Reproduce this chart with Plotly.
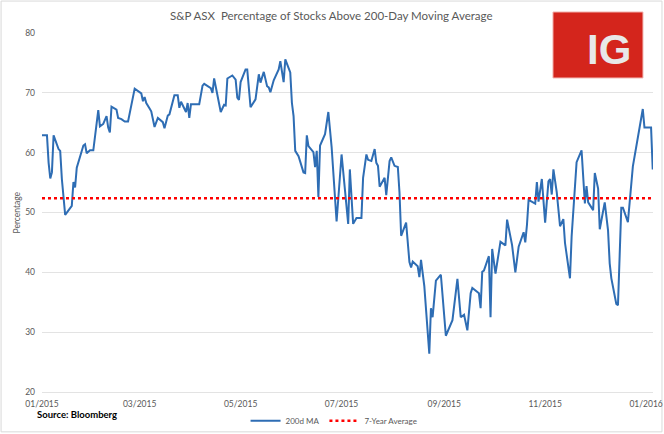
import plotly.graph_objects as go

# ---- data ----
dates = [
    "2015-01-01", "2015-01-04", "2015-01-05", "2015-01-06", "2015-01-07", "2015-01-08",
    "2015-01-11", "2015-01-12", "2015-01-13", "2015-01-15", "2015-01-19", "2015-01-20",
    "2015-01-21", "2015-01-22", "2015-01-26", "2015-01-27", "2015-01-28", "2015-01-30",
    "2015-02-01", "2015-02-04", "2015-02-05", "2015-02-07", "2015-02-09", "2015-02-10",
    "2015-02-11", "2015-02-12", "2015-02-15", "2015-02-16", "2015-02-18", "2015-02-20",
    "2015-02-22", "2015-02-26", "2015-03-02", "2015-03-03", "2015-03-04", "2015-03-05",
    "2015-03-07", "2015-03-08", "2015-03-10", "2015-03-12", "2015-03-15", "2015-03-16",
    "2015-03-18", "2015-03-19", "2015-03-22", "2015-03-24", "2015-03-25", "2015-03-26",
    "2015-03-29", "2015-03-30", "2015-03-31", "2015-04-01", "2015-04-06", "2015-04-08",
    "2015-04-09", "2015-04-13", "2015-04-14", "2015-04-15", "2015-04-19", "2015-04-21",
    "2015-04-22", "2015-04-23", "2015-04-26", "2015-04-28", "2015-04-29", "2015-04-30",
    "2015-05-01", "2015-05-04", "2015-05-05", "2015-05-07", "2015-05-10", "2015-05-12",
    "2015-05-13", "2015-05-15", "2015-05-17", "2015-05-18", "2015-05-19", "2015-05-21",
    "2015-05-24", "2015-05-25", "2015-05-27", "2015-05-28", "2015-05-31", "2015-06-01",
    "2015-06-02", "2015-06-03", "2015-06-05", "2015-06-08", "2015-06-09", "2015-06-10",
    "2015-06-11", "2015-06-14", "2015-06-15", "2015-06-16", "2015-06-17", "2015-06-18",
    "2015-06-21", "2015-06-23", "2015-06-25", "2015-06-28", "2015-07-01", "2015-07-05",
    "2015-07-06", "2015-07-08", "2015-07-10", "2015-07-13", "2015-07-14", "2015-07-16",
    "2015-07-17", "2015-07-19", "2015-07-21", "2015-07-22", "2015-07-23", "2015-07-24",
    "2015-07-27", "2015-07-28", "2015-07-30", "2015-07-31", "2015-08-02", "2015-08-04",
    "2015-08-05", "2015-08-06", "2015-08-09", "2015-08-11", "2015-08-12", "2015-08-13",
    "2015-08-16", "2015-08-17", "2015-08-18", "2015-08-20", "2015-08-23", "2015-08-24",
    "2015-08-25", "2015-08-27", "2015-08-30", "2015-09-02", "2015-09-06", "2015-09-09",
    "2015-09-11", "2015-09-13", "2015-09-15", "2015-09-17", "2015-09-18", "2015-09-22",
    "2015-09-23", "2015-09-24", "2015-09-25", "2015-09-28", "2015-09-29", "2015-09-30",
    "2015-10-02", "2015-10-05", "2015-10-08", "2015-10-09", "2015-10-12", "2015-10-14",
    "2015-10-16", "2015-10-19", "2015-10-20", "2015-10-21", "2015-10-22", "2015-10-26",
    "2015-10-27", "2015-10-28", "2015-10-30", "2015-11-01", "2015-11-03", "2015-11-04",
    "2015-11-05", "2015-11-06", "2015-11-08", "2015-11-10", "2015-11-12", "2015-11-13",
    "2015-11-16", "2015-11-17", "2015-11-20", "2015-11-23", "2015-11-25", "2015-11-26",
    "2015-11-27", "2015-11-30", "2015-12-01", "2015-12-03", "2015-12-04", "2015-12-07",
    "2015-12-09", "2015-12-10", "2015-12-11", "2015-12-14", "2015-12-15", "2015-12-17",
    "2015-12-18", "2015-12-21", "2015-12-24", "2015-12-28", "2015-12-30", "2015-12-31",
    "2016-01-04", "2016-01-05",
]

ma_200d = [
    62.9, 62.9, 58.3, 55.7, 56.7, 62.9,
    60.6, 60.3, 55.6, 49.6, 51.1, 55.1,
    54.2, 57.5, 61.2, 61.4, 59.9, 60.4,
    60.4, 67.1, 64.4, 64.8, 66.1, 64.2,
    63.4, 67.7, 67.2, 65.8, 65.6, 65.2,
    65.2, 70.7, 69.9, 68.6, 69.3, 68.3,
    67.4, 66.9, 64.3, 65.8, 65.1, 64.1,
    66.2, 66.4, 69.6, 69.6, 67.5, 68.5,
    66.8, 68.3, 65.8, 68.1, 68.1, 71.2,
    71.5, 70.8, 70.0, 72.4, 66.8, 68.0,
    67.9, 72.4, 72.9, 72.2, 69.2, 68.8,
    71.8, 73.9, 73.9, 67.6, 68.9, 73.1,
    71.7, 73.5, 71.1, 70.9, 70.1, 72.1,
    73.9, 75.3, 71.8, 75.6, 73.4, 68.3,
    66.1, 60.3, 59.4, 56.7, 56.6, 62.9,
    61.1, 60.1, 57.6, 60.3, 52.6, 61.2,
    63.1, 66.8, 60.9, 48.5, 59.7, 48.1,
    57.2, 48.1, 49.1, 49.1, 55.8, 59.7,
    58.8, 58.6, 60.6, 58.3, 57.8, 54.3,
    55.8, 52.9, 58.6, 59.2, 57.8, 57.6,
    53.3, 46.1, 48.3, 41.7, 40.8, 41.8,
    41.0, 39.2, 42.1, 37.7, 26.4, 34.0,
    32.5, 38.6, 39.6, 29.4, 32.0, 38.9,
    32.5, 32.9, 30.3, 36.5, 37.4, 36.5,
    34.0, 40.1, 40.3, 42.7, 32.5, 43.9,
    39.8, 45.1, 44.5, 48.8, 44.6, 40.0,
    44.3, 46.7, 45.0, 47.9, 52.1, 51.5,
    55.1, 51.8, 55.6, 48.3, 55.2, 55.6,
    53.0, 57.2, 53.4, 47.7, 48.9, 44.9,
    39.0, 46.0, 58.4, 60.4, 51.5, 54.4,
    51.7, 50.4, 56.6, 54.0, 47.2, 51.7,
    47.0, 41.5, 39.0, 34.7, 34.5, 50.8,
    50.8, 48.4, 57.7, 64.0, 67.3, 64.2,
    64.2, 57.2,
]

seven_year_average = 52.4

tick_dates = ["2015-01-01", "2015-03-01", "2015-05-01", "2015-07-01",
              "2015-09-01", "2015-11-01", "2016-01-01"]
tick_labels = ["01/2015", "03/2015", "05/2015", "07/2015",
               "09/2015", "11/2015", "01/2016"]

FONT = "Lato"
GREY = "#595959"
GRID = "#e3e3e3"

fig = go.Figure()

fig.add_trace(go.Scatter(
    x=dates, y=ma_200d, mode="lines", name="200d MA",
    line=dict(color="#2E6DB4", width=2),
))
fig.add_trace(go.Scatter(
    x=[dates[0], dates[-1]], y=[seven_year_average, seven_year_average],
    mode="lines", name="7-Year Average",
    line=dict(color="#FF0000", width=2.5, dash="dot"),
))

fig.update_layout(
    width=664, height=434,
    margin=dict(l=42, r=11, t=33, b=42, autoexpand=False),
    paper_bgcolor="white", plot_bgcolor="white",
    font=dict(family=FONT, color=GREY, size=9),
    showlegend=True,
    legend=dict(orientation="h", x=0.478, xanchor="center", y=-0.08, yanchor="middle",
                font=dict(size=8, color=GREY), itemwidth=30, bgcolor="rgba(0,0,0,0)"),
    xaxis=dict(type="date", range=["2015-01-01", "2016-01-05 04:00"],
               tickvals=tick_dates, ticktext=tick_labels,
               showgrid=False, zeroline=False, showline=True, linecolor=GRID, linewidth=1,
               ticks="", ticklabelstandoff=4,
               tickfont=dict(size=8.5, color=GREY)),
    yaxis=dict(range=[20, 80], dtick=10, tick0=20,
               showgrid=True, gridcolor=GRID, gridwidth=1,
               zeroline=False, showline=False, ticks="",
               ticklabelstandoff=6,
               tickfont=dict(size=8.5, color=GREY)),
)

# title
fig.add_annotation(text="S&P ASX  Percentage of Stocks Above 200-Day Moving Average",
                   xref="paper", yref="paper", x=0.473, y=1.0,
                   xanchor="center", yanchor="bottom", yshift=9, showarrow=False,
                   font=dict(family=FONT, size=11.5, color=GREY))
# y-axis title
fig.add_annotation(text="Percentage", textangle=-90, xref="paper", yref="paper",
                   x=-0.041, y=0.5, xanchor="center", yanchor="middle", showarrow=False,
                   font=dict(family=FONT, size=8.5, color=GREY))
# source
fig.add_annotation(text="<b>Source: Bloomberg</b>", xref="paper", yref="paper",
                   x=-0.0115, y=-0.064, xanchor="left", yanchor="middle", showarrow=False,
                   font=dict(family=FONT, size=9.5, color="#000000"))

# IG logo box
fig.add_shape(type="rect", xref="paper", yref="paper",
              x0=0.8363, x1=0.9836, y0=0.8747, y1=1.0585,
              fillcolor="#D4251C", line=dict(color="#F2B4B0", width=1), layer="above")
fig.add_annotation(text="<b>IG</b>", xref="paper", yref="paper",
                   x=0.928, y=0.955, xanchor="center", yanchor="middle", showarrow=False,
                   font=dict(family="Liberation Sans", size=42, color="#E8E8E8"))

# outer chart border
fig.add_shape(type="rect", xref="paper", yref="paper",
              x0=-0.067, x1=1.0147, y0=-0.111, y1=1.089,
              line=dict(color="#D9D9D9", width=1), fillcolor="rgba(0,0,0,0)", layer="below")

fig.write_html("out.html", config={"displayModeBar": False},
               post_script="document.body.style.margin='0';document.body.style.padding='0';")
